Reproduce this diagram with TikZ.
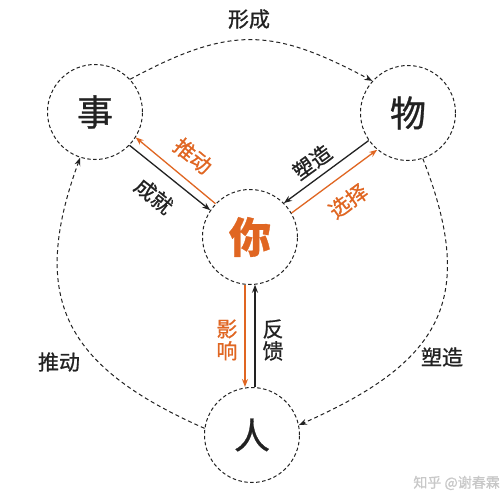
\documentclass[tikz,border=0pt]{standalone}
\usepackage{fontspec}
\setmainfont{Noto Sans CJK SC}[FakeBold=0.8]
\usetikzlibrary{arrows.meta}
\definecolor{accent}{RGB}{224,102,34}
\definecolor{ink}{RGB}{34,34,34}
\definecolor{mark}{RGB}{200,200,200}
\begin{document}
\begin{tikzpicture}[x=1pt,y=-1pt,
 circ/.style={circle,draw=ink,dash pattern=on 3.5pt off 2.5pt,line width=1pt,minimum size=95pt,inner sep=0pt,font=\fontsize{36}{36}\selectfont,text=ink},
 outer/.style={draw=ink,dash pattern=on 4pt off 3pt,line width=1pt,-{Stealth[length=8pt,width=6pt]}},
 blk/.style={draw=ink,line width=1.3pt,-{Stealth[length=8pt,width=6pt]}},
 org/.style={draw=accent,line width=1.3pt,-{Stealth[length=8pt,width=6pt]}},
 lbl/.style={font=\fontsize{21}{21}\selectfont,text=ink,inner sep=0pt},
 olbl/.style={lbl,text=accent}]
\useasboundingbox (0,0) rectangle (500,495);
\fill[white] (0,0) rectangle (500,495);
\node[circ] (shi) at (95,112) {事};
\node[circ] (wu) at (408,113) {物};
\node[circ,font=\fontsize{42}{42}\selectfont\bfseries,text=accent] (ni) at (250,237) {你};
\node[circ] (ren) at (252,435) {人};
% outer cycle
\draw[outer] (shi.43) .. controls (231,25) and (273,28) .. (wu.138);
\draw[outer] (wu.-72) .. controls (479,302) and (439,363) .. (ren.12);
\draw[outer] (ren.172) .. controls (66,367) and (28,300) .. (shi.-108);
% inner arrows
\draw[blk] (shi.-44) -- (ni.146);
\draw[org] (ni.136) -- (shi.-32);
\draw[blk] (wu.-145) -- (ni.45);
\draw[org] (ni.30) -- (wu.-130);
\draw[org] (ni.-96) -- (ni.-96 |- ren.north);
\draw[blk] (ni.-84 |- ren.north) -- (ni.-84);
% labels
\node[lbl] (l1) at (249,19) {形成};
\node[lbl] (l2) at (59,362) {推动};
\node[lbl] (l3) at (442,357) {塑造};
\node[lbl,rotate=-39] (l4) at (154,196) {成就};
\node[olbl,rotate=-39] (l5) at (193,156) {推动};
\node[lbl,rotate=36] (l6) at (312,162) {塑造};
\node[olbl,rotate=36] (l7) at (348,201) {选择};
\node[olbl,align=center,font=\fontsize{21}{22}\selectfont] (l8) at (227,340) {影\\响};
\node[lbl,align=center,font=\fontsize{21}{22}\selectfont] (l9) at (273,340) {反\\馈};
\node[font=\fontsize{14}{14}\selectfont,text=mark,anchor=east,inner sep=0pt] (wm) at (500,483) {知乎 @谢春霖};
\end{tikzpicture}
\end{document}
